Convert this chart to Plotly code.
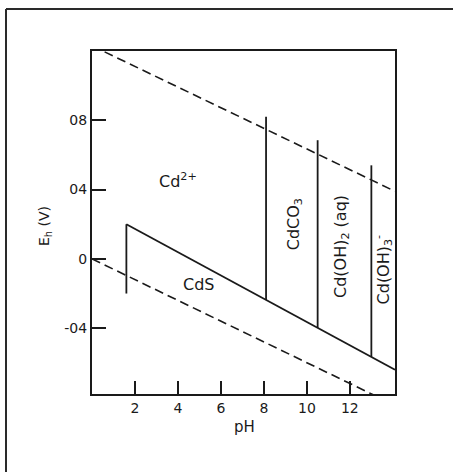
import numpy as np
import plotly.graph_objects as go

# ---- data (pH / Eh in volts) ----
ph_range = [0.0, 14.1]
eh_range = [-0.78, 1.2]

# water stability limits (dashed)
water_ph = [0.0, 14.1]
o2_eh = [1.23, 0.39]      # O2 / H2O
h2_eh = [0.0, -0.845]     # H+ / H2

# CdS field boundary: vertical edge then sloping line
cds_edge_ph = [1.6, 1.6]
cds_edge_eh = [-0.2, 0.2]
cds_line_ph = [1.6, 14.1]
cds_line_eh = [0.2, -0.64]

# vertical field boundaries (pH, top Eh); bottoms sit on the CdS line
vert_ph = [8.1, 10.5, 13.0]
vert_top = [0.82, 0.685, 0.54]

x_tickvals = [2, 4, 6, 8, 10, 12]
x_ticktext = ["2", "4", "6", "8", "10", "12"]
y_tickvals = [0.8, 0.4, 0.0, -0.4]
y_ticktext = ["08", "04", "0", "-04"]

# field labels: (text, pH, Eh, angle)
field_labels = [
    ("Cd<sup>2+</sup>", 4.0, 0.455, 0),
    ("CdS", 4.95, -0.15, 0),
    ("CdCO<sub>3</sub>", 9.4, 0.20, -90),
    ("Cd(OH)<sub>2</sub> (aq)", 11.6, 0.07, -90),
    ("Cd(OH)<sub>3</sub><sup>-</sup>", 13.55, -0.06, -90),
]

# ---- layout geometry ----
W, H = 453, 472
L, R, T, B = 92, 58, 51, 78
PW, PH = W - L - R, H - T - B


def px_x(px):
    return (px - L) / PW


def px_y(py):
    return (H - B - py) / PH


INK = "#1a1a1a"
FONT = "DejaVu Sans"

fig = go.Figure()

dash_style = dict(color=INK, width=1.6, dash="9px,5px")
fig.add_trace(go.Scatter(x=water_ph, y=o2_eh, mode="lines", line=dash_style))
fig.add_trace(go.Scatter(x=water_ph, y=h2_eh, mode="lines", line=dash_style))

solid = dict(color=INK, width=1.8)
fig.add_trace(go.Scatter(x=cds_edge_ph, y=cds_edge_eh, mode="lines", line=solid))
fig.add_trace(go.Scatter(x=cds_line_ph, y=cds_line_eh, mode="lines", line=solid))

for ph, top in zip(vert_ph, vert_top):
    bottom = float(np.interp(ph, cds_line_ph, cds_line_eh))
    fig.add_trace(go.Scatter(x=[ph, ph], y=[bottom, top], mode="lines", line=solid))

for text, ph, eh, ang in field_labels:
    fig.add_annotation(x=ph, y=eh, text=text, showarrow=False, textangle=ang,
                       font=dict(family=FONT, size=16, color=INK),
                       xanchor="center", yanchor="middle")

# axis titles
fig.add_annotation(xref="paper", yref="paper", x=px_x(244), y=px_y(427),
                   text="pH", showarrow=False,
                   font=dict(family=FONT, size=15, color=INK),
                   xanchor="center", yanchor="middle")
fig.add_annotation(xref="paper", yref="paper", x=px_x(45), y=px_y(226),
                   text="E<sub>h</sub> (V)", showarrow=False, textangle=-90,
                   font=dict(family=FONT, size=14, color=INK),
                   xanchor="center", yanchor="middle")

# outer frame (left and top edges of the page border)
frame = dict(color="#2a2a2a", width=2)
fig.add_shape(type="line", xref="paper", yref="paper",
              x0=px_x(6), y0=px_y(9), x1=px_x(470), y1=px_y(9), line=frame)
fig.add_shape(type="line", xref="paper", yref="paper",
              x0=px_x(6), y0=px_y(9), x1=px_x(6), y1=px_y(490), line=frame)

axis_common = dict(showgrid=False, zeroline=False, showline=True, mirror=True,
                   linecolor=INK, linewidth=2, ticks="inside", tickcolor=INK,
                   tickwidth=1.5, tickfont=dict(family=FONT, size=14, color=INK))

fig.update_xaxes(range=ph_range, tickvals=x_tickvals, ticktext=x_ticktext,
                 ticklen=13, **axis_common)
fig.update_yaxes(range=eh_range, tickvals=y_tickvals, ticktext=y_ticktext,
                 ticklen=14, **axis_common)

fig.update_layout(width=W, height=H, showlegend=False,
                  margin=dict(l=L, r=R, t=T, b=B, pad=0),
                  paper_bgcolor="white", plot_bgcolor="white",
                  font=dict(family=FONT, color=INK))

fig.write_html("out.html")
